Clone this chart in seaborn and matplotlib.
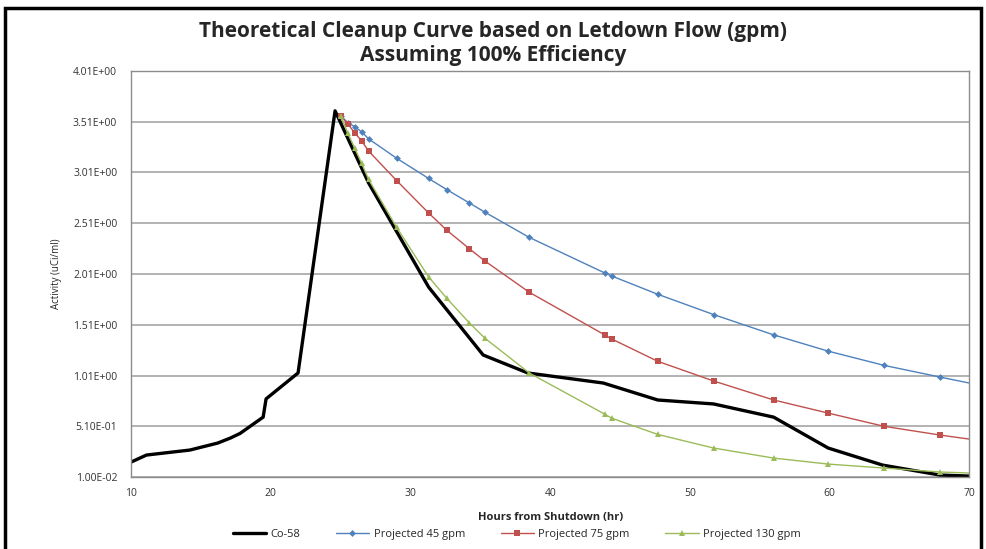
import numpy as np
import pandas as pd
import seaborn as sns
import matplotlib.pyplot as plt
from matplotlib.patches import Rectangle
from matplotlib.ticker import FuncFormatter

# Co-58 measured activity
co58_hours = [10, 11.1, 14.2, 16.2, 17.1, 17.8, 19.45, 19.66, 21.95, 24.6, 27.0, 31.3,
              35.2, 38.4, 43.8, 47.7, 51.7, 56.0, 59.9, 63.8, 67.9, 70]
co58_act = [0.158, 0.227, 0.276, 0.345, 0.394, 0.44, 0.60, 0.78, 1.035, 3.616, 2.906, 1.88,
            1.212, 1.035, 0.936, 0.769, 0.73, 0.60, 0.296, 0.128, 0.03, 0.02]

# projected cleanup curves (shared time points)
proj_hours = [25.0, 25.5, 26.0, 26.5, 27.0, 29.0, 31.3, 32.6, 34.2, 35.3, 38.5, 43.9,
              44.4, 47.7, 51.7, 56.0, 59.9, 63.9, 67.9, 70]
proj_45 = [3.57, 3.50, 3.46, 3.41, 3.34, 3.15, 2.95, 2.84, 2.71, 2.62, 2.37, 2.02,
           1.99, 1.81, 1.61, 1.41, 1.25, 1.11, 0.995, 0.936]
proj_75 = [3.57, 3.49, 3.40, 3.32, 3.22, 2.93, 2.61, 2.44, 2.26, 2.14, 1.83, 1.41,
           1.37, 1.15, 0.956, 0.769, 0.64, 0.51, 0.424, 0.384]
proj_130 = [3.57, 3.40, 3.25, 3.10, 2.94, 2.47, 1.98, 1.77, 1.53, 1.38, 1.035, 0.63,
            0.59, 0.43, 0.296, 0.197, 0.138, 0.099, 0.06, 0.05]

y_ticks = [0.01, 0.51, 1.01, 1.51, 2.01, 2.51, 3.01, 3.51, 4.01]

sns.set_style("white")
plt.rcParams['font.family'] = ['Open Sans', 'DejaVu Sans']

fig = plt.figure(figsize=(9.86, 5.49), dpi=100)
ax = fig.add_axes([0.133, 0.131, 0.850, 0.740])

marks = list(range(len(proj_hours) - 1))
sns.lineplot(x=co58_hours, y=co58_act, ax=ax, color='black', linewidth=2.4,
             label='Co-58', sort=False)
sns.lineplot(x=proj_hours, y=proj_45, ax=ax, color='#4F81BD', linewidth=1.0,
             marker='D', markersize=3.5, markeredgewidth=0, markevery=marks,
             label='Projected 45 gpm')
sns.lineplot(x=proj_hours, y=proj_75, ax=ax, color='#C0504D', linewidth=1.0,
             marker='s', markersize=5, markeredgewidth=0, markevery=marks,
             label='Projected 75 gpm')
sns.lineplot(x=proj_hours, y=proj_130, ax=ax, color='#9BBB59', linewidth=1.0,
             marker='^', markersize=5, markeredgewidth=0, markevery=marks,
             label='Projected 130 gpm')

ax.set_xlim(10, 70)
ax.set_ylim(0.01, 4.01)
ax.set_xticks([10, 20, 30, 40, 50, 60, 70])
ax.set_yticks(y_ticks)
ax.yaxis.set_major_formatter(FuncFormatter(lambda v, p: f"{v:.2E}"))
ax.grid(axis='y', color='#a6a6a6', linewidth=1.2)
ax.grid(axis='x', visible=False)
for s in ax.spines.values():
    s.set_color('#8c8c8c')
    s.set_linewidth(1.0)
ax.tick_params(axis='both', which='major', direction='out', length=4, width=0.8,
               color='#8c8c8c', labelsize=7.5, labelcolor='#333333', pad=6)
ax.tick_params(axis='x', pad=4)

ax.set_xlabel('Hours from Shutdown (hr)', fontsize=8, fontweight='bold', labelpad=9)
ax.set_ylabel('Activity (uCi/ml)', fontsize=7, labelpad=8)

fig.suptitle('Theoretical Cleanup Curve based on Letdown Flow (gpm)\nAssuming 100% Efficiency',
             fontsize=15, fontweight='bold', y=0.962, linespacing=1.2)

ax.legend(loc='center', bbox_to_anchor=(0.46, -0.142), ncol=4, frameon=False,
          fontsize=8, handlelength=3.0, columnspacing=3.2, handletextpad=0.4)

fig.patches.append(Rectangle((0.005, -0.01), 0.99, 0.995, transform=fig.transFigure,
                             fill=False, edgecolor='black', linewidth=2.5))

fig.savefig('out.png', dpi=100)
